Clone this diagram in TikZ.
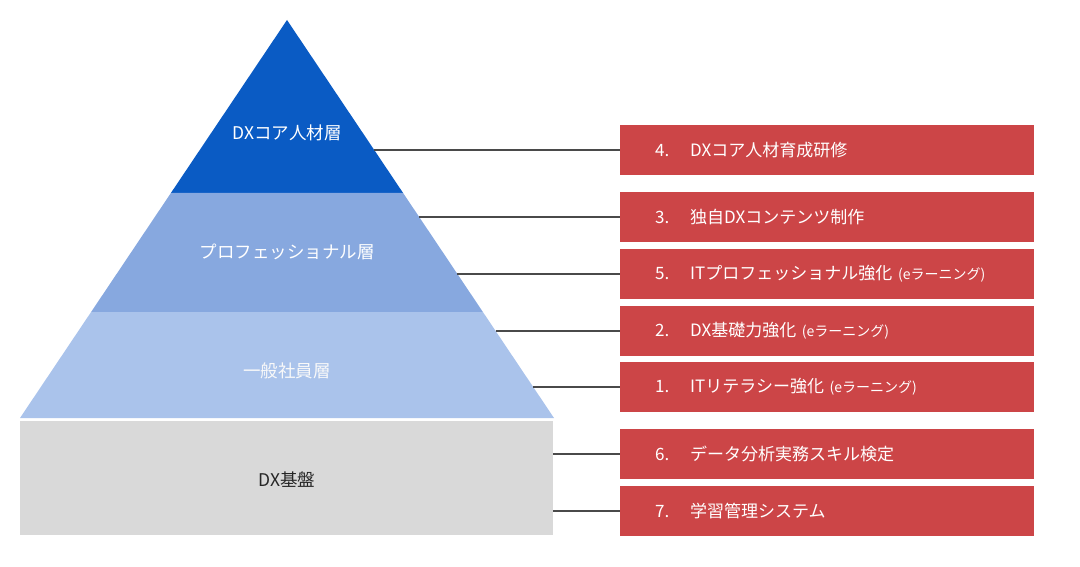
\documentclass[tikz,border=0pt]{standalone}
\usepackage{fontspec}
\newfontfamily\jp{Noto Sans CJK JP}
\definecolor{coreblue}{HTML}{0A5BC4}
\definecolor{problue}{HTML}{87A8DF}
\definecolor{genblue}{HTML}{AAC3EB}
\definecolor{basegray}{HTML}{D9D9D9}
\definecolor{boxred}{HTML}{CC4547}
\definecolor{linegray}{HTML}{4A4A4A}
\tikzset{
  itembox/.style={fill=boxred, draw=none, anchor=west, minimum height=50pt,
    text width=344pt, inner xsep=35pt, inner ysep=0pt, align=left,
    text=white, font=\jp\fontsize{17}{19}\selectfont},
  layerlabel/.style={text=white, font=\jp\fontsize{17.5}{19}\selectfont},
  conn/.style={draw=linegray, line width=1.5pt},
}
\newcommand{\itemnum}[1]{\makebox[35pt][l]{#1}}
\newcommand{\subnote}[1]{{\fontsize{14}{16}\selectfont #1}}
\begin{document}
\begin{tikzpicture}[x=1pt,y=-1pt]
\useasboundingbox (0,0) rectangle (1080,567);
% pyramid layers
\fill[coreblue] (287,20) -- (403.1,193) -- (170.9,193) -- cycle;
\fill[problue] (170.9,193) -- (403.1,193) -- (482.9,312) -- (91.1,312) -- cycle;
\fill[genblue] (91.1,312) -- (482.9,312) -- (554,418) -- (20,418) -- cycle;
\fill[basegray] (20,421) rectangle (553,535);
% layer labels
\node[layerlabel] (lcore) at (287,133) {DXコア人材層};
\node[layerlabel] (lpro) at (287,252) {プロフェッショナル層};
\node[layerlabel, text=white!95!gray] (lgen) at (287,371) {一般社員層};
\node[layerlabel, text=black!85] (lbase) at (287,480) {DX基盤};
% item boxes
\node[itembox] (b4) at (620,150) {\itemnum{4.}DXコア人材育成研修};
\node[itembox] (b3) at (620,217) {\itemnum{3.}独自DXコンテンツ制作};
\node[itembox] (b5) at (620,274) {\itemnum{5.}ITプロフェッショナル強化 \subnote{(eラーニング)}};
\node[itembox] (b2) at (620,331) {\itemnum{2.}DX基礎力強化 \subnote{(eラーニング)}};
\node[itembox] (b1) at (620,387) {\itemnum{1.}ITリテラシー強化 \subnote{(eラーニング)}};
\node[itembox] (b6) at (620,454) {\itemnum{6.}データ分析実務スキル検定};
\node[itembox] (b7) at (620,511) {\itemnum{7.}学習管理システム};
% connector anchors on the pyramid
\coordinate (c4) at (374.2,150);
\coordinate (c3) at (419.2,217);
\coordinate (c5) at (457.1,274);
\coordinate (c2) at (495.6,331);
\coordinate (c1) at (533.2,387);
\coordinate (c6) at (553,454);
\coordinate (c7) at (553,511);
\foreach \i in {4,3,5,2,1,6,7} { \draw[conn] (c\i) -- (b\i.west); }
\end{tikzpicture}
\end{document}
